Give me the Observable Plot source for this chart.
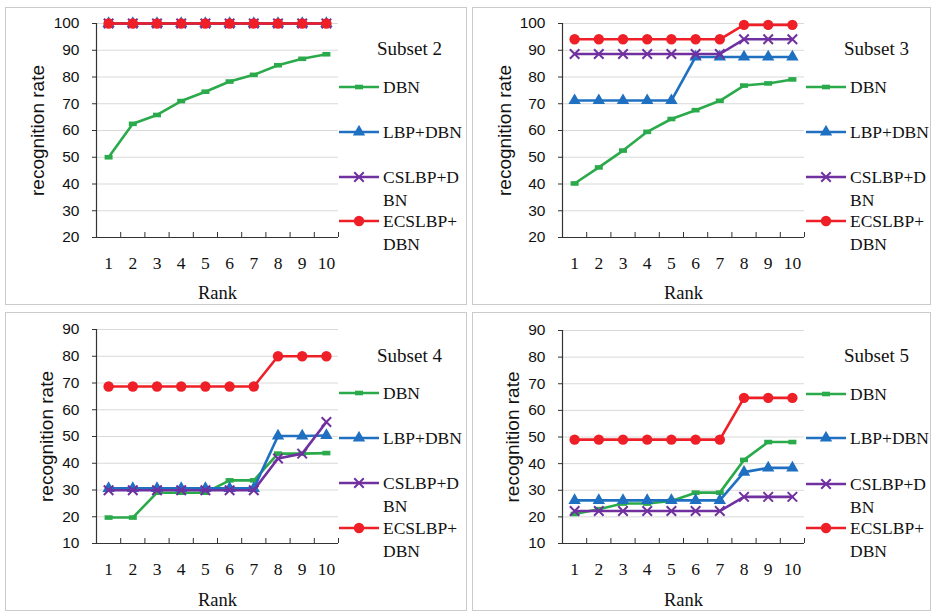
<!DOCTYPE html>
<html><head><meta charset="utf-8">
<script src="https://cdn.jsdelivr.net/npm/d3@7"></script>
<script src="https://cdn.jsdelivr.net/npm/@observablehq/plot@0.6"></script>
<style>
html,body{margin:0;padding:0;background:#fff;}
#root{position:relative;width:931px;height:611px;overflow:hidden;background:#fff;}
.panel{position:absolute;box-sizing:border-box;border:1.5px solid #cbcbcb;}
.plot{position:absolute;}
.leg{position:absolute;font-family:"Liberation Serif","Times New Roman",serif;font-size:17.5px;color:#111;line-height:23px;white-space:nowrap;}
.ttl{position:absolute;font-family:"Liberation Serif","Times New Roman",serif;font-size:19px;color:#111;white-space:nowrap;}
.sw{position:absolute;}
</style></head><body><div id="root"></div>
<script>
// ---------- data ----------
const ranks = [1, 2, 3, 4, 5, 6, 7, 8, 9, 10];
const rankBoundaries = [0.5, 1.5, 2.5, 3.5, 4.5, 5.5, 6.5, 7.5, 8.5, 9.5, 10.5];
const seriesNames = ["DBN", "LBP+DBN", "CSLBP+DBN", "ECSLBP+DBN"];
const legendLines = [["DBN"], ["LBP+DBN"], ["CSLBP+D", "BN"], ["ECSLBP+", "DBN"]];
const seriesColors = ["#2aaa4a", "#1f70c1", "#7030a0", "#ee1f27"];
const yTicksTop = [20, 30, 40, 50, 60, 70, 80, 90, 100];
const yTicksBottom = [10, 20, 30, 40, 50, 60, 70, 80, 90];
const subsetTitles = ["Subset 2", "Subset 3", "Subset 4", "Subset 5"];
const xTitle = "Rank";
const yTitle = "recognition rate";

const s2_dbn    = [50, 62.5, 65.8, 71, 74.5, 78.3, 80.8, 84.4, 86.8, 88.5];
const s2_lbp    = [100, 100, 100, 100, 100, 100, 100, 100, 100, 100];
const s2_cslbp  = [100, 100, 100, 100, 100, 100, 100, 100, 100, 100];
const s2_ecslbp = [100, 100, 100, 100, 100, 100, 100, 100, 100, 100];

const s3_dbn    = [40.2, 46.2, 52.5, 59.5, 64.3, 67.6, 71.1, 76.8, 77.6, 79.1];
const s3_lbp    = [71.2, 71.2, 71.2, 71.2, 71.2, 87.5, 87.5, 87.5, 87.5, 87.5];
const s3_cslbp  = [88.6, 88.6, 88.6, 88.6, 88.6, 88.6, 88.6, 94.1, 94.1, 94.1];
const s3_ecslbp = [94.1, 94.1, 94.1, 94.1, 94.1, 94.1, 94.1, 99.5, 99.5, 99.5];

const s4_dbn    = [19.7, 19.7, 29, 29, 29, 33.6, 33.6, 43.6, 43.6, 43.8];
const s4_lbp    = [30.6, 30.6, 30.6, 30.6, 30.6, 30.6, 30.6, 50.2, 50.2, 50.4];
const s4_cslbp  = [29.9, 29.9, 29.9, 29.9, 29.9, 29.9, 29.9, 41.8, 43.6, 55.4];
const s4_ecslbp = [68.7, 68.7, 68.7, 68.7, 68.7, 68.7, 68.7, 80, 80, 80];

const s5_dbn    = [21.1, 22.9, 25, 25, 26, 29.1, 29.1, 41.4, 48.1, 48.1];
const s5_lbp    = [26.2, 26.2, 26.2, 26.2, 26.2, 26.2, 26.2, 36.8, 38.4, 38.4];
const s5_cslbp  = [22.2, 22.2, 22.2, 22.2, 22.2, 22.2, 22.2, 27.5, 27.5, 27.5];
const s5_ecslbp = [49, 49, 49, 49, 49, 49, 49, 64.7, 64.7, 64.7];

// ---------- drawing ----------
const serifFont = '"Liberation Serif","Times New Roman",serif';
const sansFont = '"Liberation Sans",Arial,sans-serif';
const dashSymbol = {draw(ctx) { ctx.rect(-4, -2.3, 8, 4.6); }};

function seriesMarks(valuesList) {
  const marks = [];
  valuesList.forEach((vals, i) => {
    const rows = ranks.map((r, j) => ({rank: r, value: vals[j], series: seriesNames[i]}));
    const color = seriesColors[i];
    marks.push(Plot.line(rows, {x: "rank", y: "value", stroke: color, strokeWidth: 2.6}));
    if (i === 0) marks.push(Plot.dot(rows, {x: "rank", y: "value", symbol: dashSymbol, fill: color, stroke: "none"}));
    if (i === 1) marks.push(Plot.dot(rows, {x: "rank", y: "value", symbol: "triangle", r: 4.6, fill: color, stroke: "none"}));
    if (i === 2) marks.push(Plot.dot(rows, {x: "rank", y: "value", symbol: "times", r: 4.4, stroke: color, strokeWidth: 2, fill: "none"}));
    if (i === 3) marks.push(Plot.dot(rows, {x: "rank", y: "value", symbol: "circle", r: 5.2, fill: color, stroke: "none"}));
  });
  return marks;
}

function legendSwatch(i) {
  const svg = d3.create("svg").attr("width", 40).attr("height", 14);
  svg.append("line").attr("x1", 0).attr("x2", 40).attr("y1", 7).attr("y2", 7)
    .attr("stroke", seriesColors[i]).attr("stroke-width", 2.6);
  const g = svg.append("g").attr("transform", "translate(20,7)");
  if (i === 0) g.append("rect").attr("x", -4).attr("y", -2.3).attr("width", 8).attr("height", 4.6).attr("fill", seriesColors[i]);
  if (i === 1) g.append("path").attr("d", d3.symbol(d3.symbolTriangle, Math.PI * 4.6 * 4.6)()).attr("fill", seriesColors[i]);
  if (i === 2) g.append("path").attr("d", d3.symbol(d3.symbolTimes, Math.PI * 4.4 * 4.4)()).attr("fill", "none").attr("stroke", seriesColors[i]).attr("stroke-width", 2);
  if (i === 3) g.append("circle").attr("r", 5.2).attr("fill", seriesColors[i]);
  return svg.node();
}

function drawPanel(cfg) {
  const root = document.getElementById("root");
  const border = document.createElement("div");
  border.className = "panel";
  Object.assign(border.style, {left: cfg.left + "px", top: cfg.top + "px", width: cfg.w + "px", height: cfg.h + "px"});
  root.appendChild(border);

  const innerH = cfg.h - cfg.mt - cfg.mb;
  const ymin = cfg.yTicks[0], ymax = cfg.yTicks[cfg.yTicks.length - 1];
  const chart = Plot.plot({
    width: cfg.w, height: cfg.h,
    marginLeft: cfg.ml, marginRight: cfg.mr, marginTop: cfg.mt, marginBottom: cfg.mb,
    style: {background: "transparent", overflow: "visible"},
    x: {domain: [0.5, 10.5], axis: null},
    y: {domain: [ymin, ymax], axis: null},
    marks: [
      Plot.gridY(cfg.yTicks.slice(1), {stroke: "#d9d9d9", strokeOpacity: 1, strokeWidth: 1}),
      Plot.ruleX([0.5], {stroke: "#333", strokeWidth: 1.2}),
      Plot.ruleY([ymin], {stroke: "#333", strokeWidth: 1.2}),
      Plot.tickX(rankBoundaries.slice(1), {x: d => d, insetTop: innerH - 5, stroke: "#333", strokeWidth: 1}),
      Plot.tickY(cfg.yTicks, {y: d => d, dx: -4, insetRight: cfg.w - cfg.ml - cfg.mr - 4, stroke: "#333", strokeWidth: 1}),
      Plot.text(cfg.yTicks, {y: d => d, text: d => String(d), frameAnchor: "left", dx: -17, textAnchor: "end", fontSize: 15.5, fontFamily: sansFont, fill: "#111"}),
      Plot.text(ranks, {x: d => d, text: d => String(d), frameAnchor: "bottom", dy: 26, lineAnchor: "middle", fontSize: 17.5, fontFamily: serifFont, fill: "#111"}),
      Plot.text([xTitle], {frameAnchor: "bottom", dy: cfg.rankDy, lineAnchor: "middle", fontSize: 18.5, fontFamily: serifFont, fill: "#111"}),
      Plot.text([yTitle], {frameAnchor: "left", dx: cfg.titleDx, rotate: -90, textAnchor: "middle", lineAnchor: "middle", fontSize: 19, fontFamily: sansFont, fill: "#111"}),
      ...seriesMarks(cfg.series)
    ]
  });
  chart.classList.add("plot");
  Object.assign(chart.style, {left: cfg.left + "px", top: cfg.top + "px"});
  root.appendChild(chart);

  // legend
  const ttl = document.createElement("div");
  ttl.className = "ttl";
  ttl.textContent = cfg.title;
  Object.assign(ttl.style, {left: (cfg.left + 372) + "px", top: (cfg.top + cfg.titleY - 12) + "px"});
  root.appendChild(ttl);
  cfg.legY.forEach((yy, i) => {
    const sw = legendSwatch(i);
    sw.classList.add("sw");
    Object.assign(sw.style, {left: (cfg.left + 334) + "px", top: (cfg.top + yy - 7) + "px"});
    root.appendChild(sw);
    const t = document.createElement("div");
    t.className = "leg";
    t.innerHTML = legendLines[i].join("<br>");
    Object.assign(t.style, {left: (cfg.left + 378) + "px", top: (cfg.top + yy - 11.5) + "px"});
    root.appendChild(t);
  });
}

drawPanel({left: 5, top: 7, w: 462, h: 298, ml: 91, mr: 129, mt: 16, mb: 68, yTicks: yTicksTop,
  series: [s2_dbn, s2_lbp, s2_cslbp, s2_ecslbp], title: subsetTitles[0], titleDx: -59, rankDy: 56,
  titleY: 43, legY: [80, 125, 170, 214]});
drawPanel({left: 472, top: 7, w: 459, h: 298, ml: 90, mr: 127, mt: 16, mb: 68, yTicks: yTicksTop,
  series: [s3_dbn, s3_lbp, s3_cslbp, s3_ecslbp], title: subsetTitles[1], titleDx: -58, rankDy: 56,
  titleY: 43, legY: [80, 125, 170, 214]});
drawPanel({left: 5, top: 312, w: 462, h: 299, ml: 91, mr: 129, mt: 17, mb: 68, yTicks: yTicksBottom,
  series: [s4_dbn, s4_lbp, s4_cslbp, s4_ecslbp], title: subsetTitles[2], titleDx: -50, rankDy: 57,
  titleY: 45, legY: [81, 126, 171, 216]});
drawPanel({left: 472, top: 312, w: 459, h: 299, ml: 90, mr: 127, mt: 18, mb: 68, yTicks: yTicksBottom,
  series: [s5_dbn, s5_lbp, s5_cslbp, s5_ecslbp], title: subsetTitles[3], titleDx: -50, rankDy: 57,
  titleY: 45, legY: [82, 126, 172, 216]});
</script></body></html>
